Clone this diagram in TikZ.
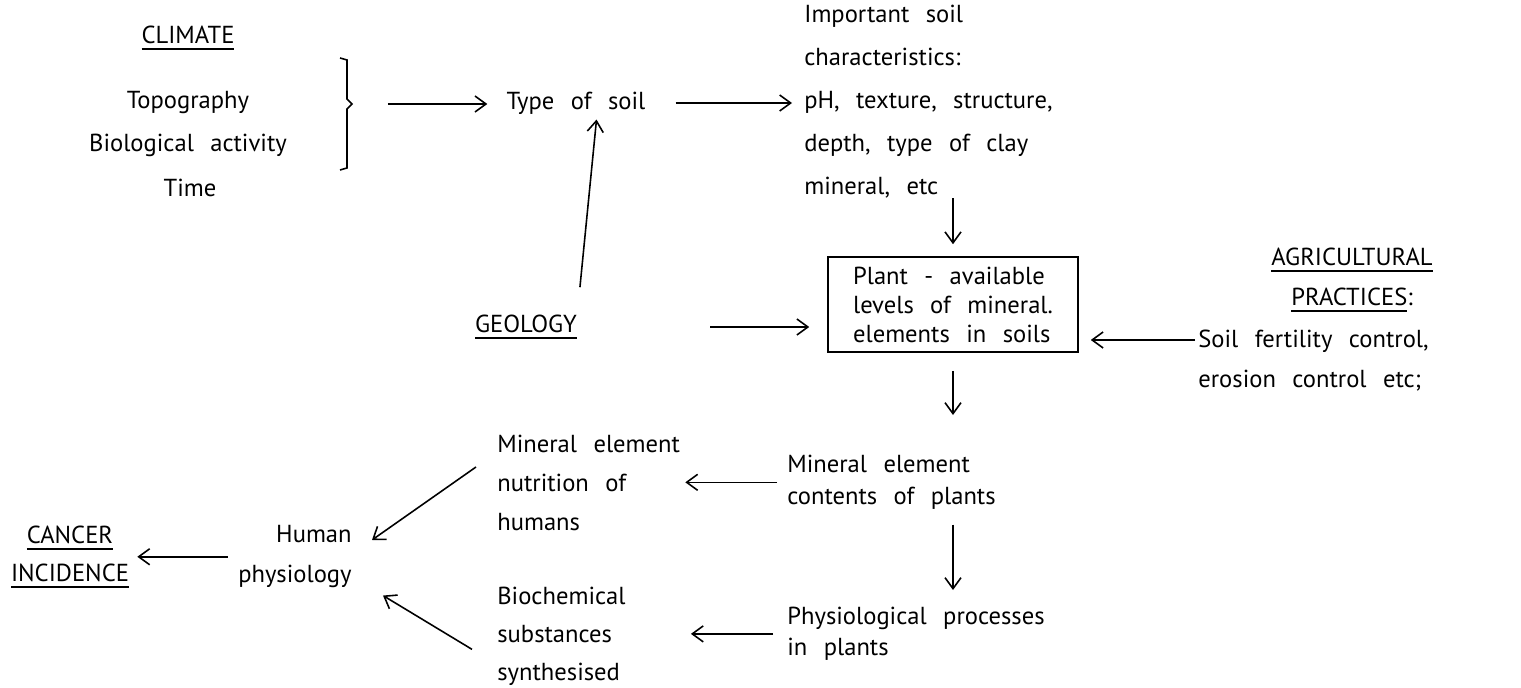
\documentclass[tikz,border=0pt]{standalone}
\usepackage{fontspec}
\setmainfont[WordSpace=2.5]{PT Sans}
\newcommand{\uln}[1]{\vtop{\hbox{#1}\kern2.5pt\hrule height 1.1pt}}
\usetikzlibrary{arrows.meta}

\begin{document}
\begin{tikzpicture}[x=0.02cm,y=-0.02cm,
    lbl/.style={inner sep=0pt,font=\fontsize{14}{16}\selectfont},
    blk/.style={inner sep=0pt,align=left,anchor=north west,
        font=\fontsize{14}{#1}\selectfont},
    arr/.style={-{Straight Barb[length=2.2mm,width=3.2mm]},line width=0.9pt},
    ]
    \useasboundingbox (0,0) rectangle (1521,688);
    % Soil forming factors
    \node[lbl] (climate) at (188,38) {\uln{CLIMATE}};
    \node[lbl] (topo) at (188,103) {Topography};
    \node[lbl] (bio) at (188,145) {Biological activity};
    \node[lbl] (time) at (190,188) {Time};
    % bracket
    \draw[line width=0.9pt] (340,58) -- (347,60) -- (347,99) -- (352,104)
        -- (347,109) -- (347,168) -- (340,170);
    \coordinate (brk) at (352,104);

    \node[lbl] (soiltype) at (576,103) {Type of soil};
    \node[blk=24.4pt] (charac) at (804,5) {Important soil\\
        characteristics:\\ pH, texture, structure,\\
        depth, type of clay\\ mineral, etc};
    \node[lbl] (geology) at (526,327) {\uln{GEOLOGY}};

    % Plant-available levels
    \node[draw,line width=0.9pt,align=left,inner xsep=0.2cm,
        minimum width=5cm,minimum height=1.9cm,
        font=\fontsize{14}{16.5}\selectfont] (avail) at (953,304.5)
        {Plant - available\\ levels of mineral.\\ elements in soils};

    \node[lbl,align=center,font=\fontsize{14}{23}\selectfont] (agri)
        at (1352,280) {\uln{AGRICULTURAL}\\ \uln{PRACTICES}:};
    \node[blk=22.5pt] (fert) at (1198,330)
        {Soil fertility control,\\ erosion control etc;};

    % Plants
    \node[blk=18pt] (content) at (787,455)
        {Mineral element\\ contents of plants};
    \node[blk=17.5pt] (procs) at (787,607)
        {Physiological processes\\ in plants};

    % Humans
    \node[blk=22pt] (nutri) at (497,435)
        {Mineral element\\ nutrition of\\ humans};
    \node[blk=21.5pt] (biochem) at (497,587)
        {Biochemical\\ substances\\ synthesised};
    \node[blk=23pt,align=right,anchor=north east] (human) at (352,525)
        {Human\\ physiology};
    \node[lbl,align=center,font=\fontsize{14}{21.5}\selectfont] (cancer)
        at (70,557) {\uln{CANCER}\\ \uln{INCIDENCE}};

    % Arrows
    \draw[arr,shorten <=0.72cm,shorten >=0.38cm] (brk) -- (brk -| soiltype.west);
    \draw[arr,shorten <=0.6cm,shorten >=0.24cm] (soiltype.east)
        -- (soiltype.east -| charac.west);
    \draw[arr,shorten <=0.55cm,shorten >=0.1cm] (geology.north east)
        -- ([xshift=0.42cm]soiltype.south);
    \draw[arr,shorten <=2.66cm,shorten >=0.36cm] (geology.east)
        -- (geology.east -| avail.west);
    \draw[arr,shorten >=0.24cm] (charac.south -| avail.north) -- (avail.north);
    \draw[arr,shorten <=0.06cm,shorten >=0.24cm] ([yshift=-0.2cm]fert.north west)
        -- ([yshift=-0.2cm]fert.north west -| avail.east);
    \draw[arr,shorten <=0.36cm,shorten >=0.8cm] (avail.south)
        -- (avail.south |- content.north);
    \draw[arr,shorten <=0.2cm,shorten >=0.1cm] (content.west)
        -- (content.west -| nutri.east);
    \draw[arr,shorten <=0.3cm,shorten >=0.34cm] (avail.south |- content.south)
        -- (avail.south |- procs.north);
    \draw[arr,shorten <=0.28cm,shorten >=1.3cm] (procs.west)
        -- (procs.west -| biochem.east);
    \draw[arr] ([shift={(-0.42cm,-0.64cm)}]nutri.north west)
        -- ([shift={(0.4cm,-0.3cm)}]human.north east);
    \draw[arr] ([shift={(-0.5cm,-0.26cm)}]biochem.west)
        -- ([shift={(0.62cm,-0.14cm)}]human.south east);
    \draw[arr,shorten <=0.2cm,shorten >=0.16cm] (human.west)
        -- (human.west -| cancer.east);
\end{tikzpicture}
\end{document}
